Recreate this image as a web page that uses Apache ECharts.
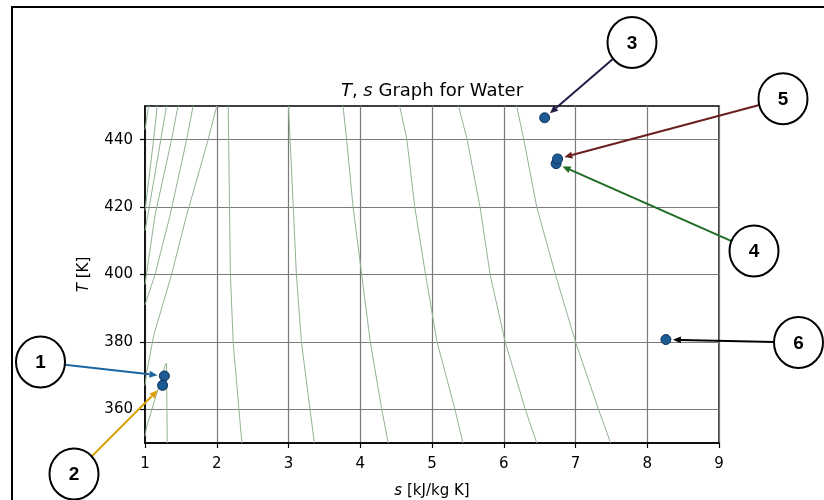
<!DOCTYPE html>
<html>
<head>
<meta charset="utf-8">
<script src="https://cdn.jsdelivr.net/npm/echarts@6/dist/echarts.min.js"></script>
<style>
html,body{margin:0;padding:0;background:#fff;}
#chart{width:824px;height:500px;}
</style>
</head>
<body>
<div id="chart"></div>
<script>
// ---- data ----
const chartTitle = 'Graph for Water';
const xTicks = [1, 2, 3, 4, 5, 6, 7, 8, 9];
const yTicks = [360, 380, 400, 420, 440];
const statePoints = [
  [1.27, 369.9],  // 1
  [1.245, 367.1], // 2
  [6.57, 446.5],  // 3
  [6.73, 432.9],  // 4
  [6.75, 434.3],  // 5
  [8.26, 380.7]   // 6
];
const stateLabels = ['1', '2', '3', '4', '5', '6'];
// background property lines
const lineA = [[1.05, 450], [1.0, 443]];
const lineB = [[1.17, 450], [1.12, 440], [1.0, 419]];
const lineC = [[1.30, 450], [1.22, 440], [1.04, 417.6], [1.0, 413]];
const lineD = [[1.46, 450], [1.37, 440], [1.14, 417.6], [1.02, 400], [1.0, 397]];
const lineE = [[1.67, 450], [1.58, 440], [1.35, 417.6], [1.14, 400], [1.0, 391]];
const lineF = [[2.0, 450], [1.88, 440], [1.58, 417.6], [1.37, 400], [1.12, 381.8], [1.02, 370.5], [1.0, 367]];
const lineG = [[1.0, 352], [1.02, 354.6], [1.29, 373.6]];
const lineV = [[1.30, 373.6], [1.31, 350]];
const line1 = [[2.16, 450], [2.19, 400], [2.23, 379.5], [2.35, 350]];
const line2 = [[3.0, 450], [3.11, 400], [3.18, 380], [3.30, 360], [3.36, 350]];
const line3 = [[3.76, 450], [3.81, 440], [3.90, 420], [4.02, 400], [4.14, 380], [4.30, 360], [4.39, 350]];
const line4 = [[4.55, 450], [4.65, 440], [4.76, 420], [4.91, 400], [5.07, 380], [5.32, 360], [5.43, 350]];
const line5 = [[5.37, 450], [5.49, 440], [5.67, 420], [5.81, 400], [6.02, 380], [6.30, 360], [6.46, 350]];
const line6 = [[6.18, 450], [6.28, 440], [6.46, 420], [6.72, 400], [7.0, 380], [7.32, 360], [7.49, 350]];
const bgLines = [lineA, lineB, lineC, lineD, lineE, lineF, lineG, lineV, line1, line2, line3, line4, line5, line6];

// annotation callouts: circle centre (pixel), arrow colour, target point index
const callouts = [
  {cx: 40.5, cy: 362, color: '#1b66a0', idx: 0},
  {cx: 74, cy: 474, color: '#d9a10d', idx: 1},
  {cx: 632, cy: 42.5, color: '#221c48', idx: 2},
  {cx: 754, cy: 251, color: '#1f6d24', idx: 3},
  {cx: 783, cy: 98.7, color: '#6b1f1f', idx: 4},
  {cx: 798.5, cy: 342.5, color: '#000000', idx: 5}
];

const FONT = 'DejaVu Sans';
const chart = echarts.init(document.getElementById('chart'), null, {renderer: 'canvas'});

const series = bgLines.map(d => ({
  type: 'line', data: d, showSymbol: false, symbol: 'none', silent: true,
  lineStyle: {color: '#93b393', width: 1}, z: 2, animation: false
}));
series.push({
  type: 'scatter', data: statePoints, symbolSize: 10, z: 5,
  itemStyle: {color: '#1c5a94', borderColor: '#0d3158', borderWidth: 1, opacity: 1}
});

const axisNameStyle = {fontFamily: FONT, fontSize: 15, color: '#000',
  rich: {i: {fontStyle: 'italic', fontFamily: FONT, fontSize: 15, color: '#000'}}};

chart.setOption({
  animation: false,
  grid: {left: 145, top: 106, right: 105, bottom: 57, show: true,
    outerBoundsMode: 'none', containLabel: false,
    borderColor: '#000', borderWidth: 1.5, backgroundColor: 'transparent'},
  xAxis: {
    type: 'value', min: 1, max: 9, interval: 1,
    name: '{i|s} [kJ/kg K]', nameLocation: 'middle', nameGap: 41,
    nameTextStyle: axisNameStyle,
    axisLine: {show: true, lineStyle: {color: '#000', width: 1.5}},
    axisTick: {show: true, inside: false, length: 5, lineStyle: {color: '#000', width: 1.2}, customValues: xTicks},
    axisLabel: {fontFamily: FONT, fontSize: 15, color: '#000', margin: 14, customValues: xTicks},
    splitLine: {show: true, lineStyle: {color: '#7a7a7a', width: 1.2}}
  },
  yAxis: {
    type: 'value', min: 350, max: 450,
    name: '{i|T} [K]', nameLocation: 'middle', nameGap: 53, nameRotate: 90,
    nameTextStyle: axisNameStyle,
    axisLine: {show: true, onZero: false, lineStyle: {color: '#000', width: 1.5}},
    axisTick: {show: true, inside: false, length: 5, lineStyle: {color: '#000', width: 1.2}, customValues: yTicks},
    axisLabel: {fontFamily: FONT, fontSize: 15, color: '#000', margin: 12, customValues: yTicks},
    splitLine: {show: true, lineStyle: {color: '#7a7a7a', width: 1.2}}
  },
  series: series
});

// ---- decorations: frame, title, numbered callouts with arrows ----
const g = [];
g.push({type: 'rect', shape: {x: 12, y: 7, width: 900, height: 600},
  style: {fill: 'none', stroke: '#000', lineWidth: 2}, z: 0, silent: true});

const gridTop = chart.convertToPixel({gridIndex: 0}, [1, 450]);
const gridRight = chart.convertToPixel({gridIndex: 0}, [9, 450]);
g.push({type: 'text', x: (gridTop[0] + gridRight[0]) / 2, y: gridTop[1] - 15,
  style: {text: '{i|T}, {i|s} ' + chartTitle, align: 'center', verticalAlign: 'middle',
    fontFamily: FONT, fontSize: 18, fill: '#000',
    rich: {i: {fontStyle: 'italic', fontFamily: FONT, fontSize: 18, fill: '#000'}}}, z: 10});

function arrow(x1, y1, x2, y2, color) {
  const dx = x2 - x1, dy = y2 - y1, L = Math.hypot(dx, dy);
  const ux = dx / L, uy = dy / L;
  const hl = 8, hw = 3.5;
  const bx = x2 - ux * hl, by = y2 - uy * hl;
  g.push({type: 'line', shape: {x1: x1, y1: y1, x2: bx, y2: by},
    style: {stroke: color, lineWidth: 2}, z: 20, silent: true});
  g.push({type: 'polygon', shape: {points: [[x2, y2], [bx - uy * hw, by + ux * hw], [bx + uy * hw, by - ux * hw]]},
    style: {fill: color}, z: 20, silent: true});
}

callouts.forEach((c) => {
  const p = chart.convertToPixel({gridIndex: 0}, statePoints[c.idx]);
  const r = 24.5;
  const dx = p[0] - c.cx, dy = p[1] - c.cy, L = Math.hypot(dx, dy);
  const sx = c.cx + dx / L * r, sy = c.cy + dy / L * r;
  const tx = p[0] - dx / L * 7, ty = p[1] - dy / L * 7;
  arrow(sx, sy, tx, ty, c.color);
  g.push({type: 'ellipse', shape: {cx: c.cx, cy: c.cy, rx: 24.5, ry: 25.5},
    style: {fill: '#fff', stroke: '#000', lineWidth: 2}, z: 21, silent: true});
  g.push({type: 'text', x: c.cx, y: c.cy + 1,
    style: {text: stateLabels[c.idx], align: 'center', verticalAlign: 'middle',
      fontFamily: 'Liberation Sans', fontWeight: 'bold', fontSize: 19, fill: '#000'}, z: 22, silent: true});
});

chart.setOption({graphic: {elements: g}});
</script>
</body>
</html>
